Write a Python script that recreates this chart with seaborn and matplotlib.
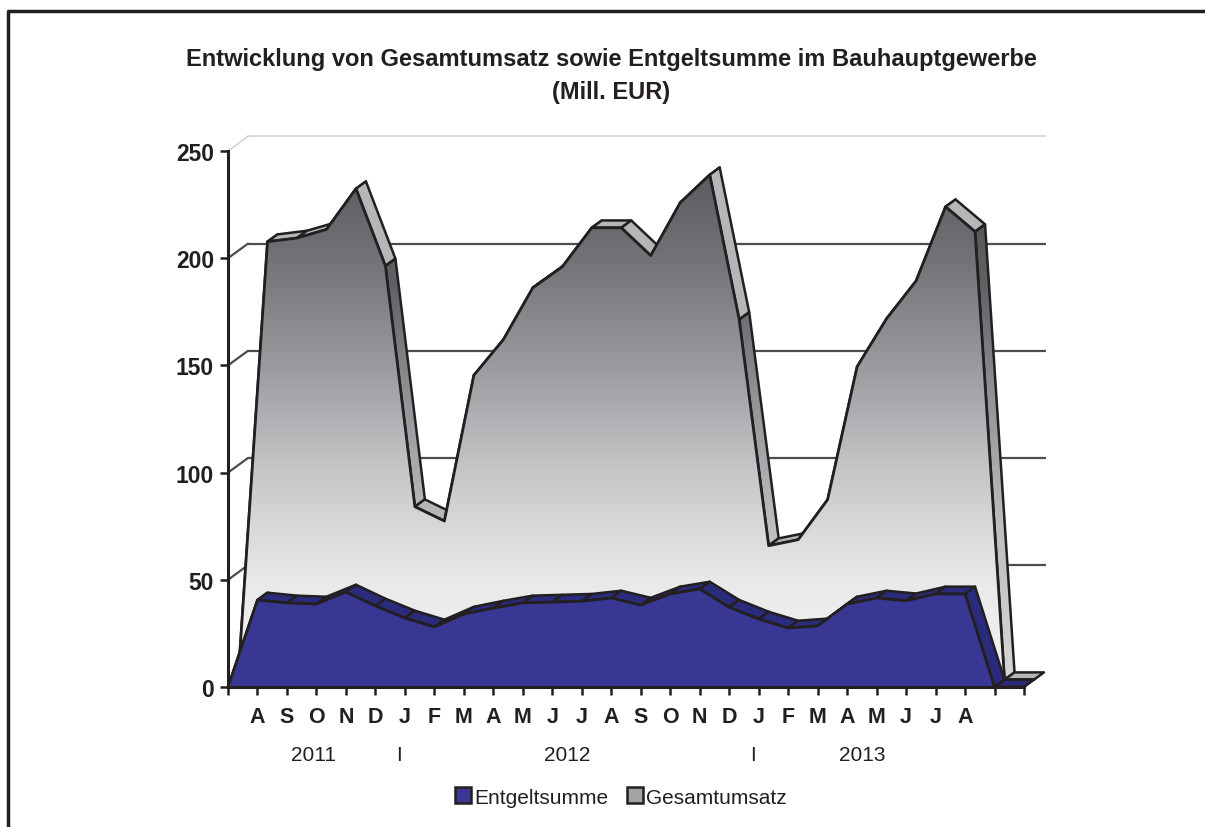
import numpy as np
import pandas as pd
import matplotlib
matplotlib.use("Agg")
import matplotlib.pyplot as plt
import matplotlib.transforms as mtransforms
from matplotlib.patches import Polygon, Patch
from matplotlib.lines import Line2D
from matplotlib.colors import LinearSegmentedColormap
import seaborn as sns

# data (Mill. EUR), Aug 2011 .. Aug 2013
months = ["A", "S", "O", "N", "D", "J", "F", "M", "A", "M", "J", "J", "A",
          "S", "O", "N", "D", "J", "F", "M", "A", "M", "J", "J", "A"]
years = ["2011", "2012", "2013"]
months_per_year = [5, 12, 8]
entgeltsumme = [40.6, 39.2, 38.7, 44.3, 37.8, 32.2, 28.0, 34.0, 36.8, 39.2, 39.6, 40.0, 41.5,
                38.2, 43.4, 45.7, 37.2, 31.7, 27.5, 28.5, 38.7, 41.5, 40.2, 43.4, 43.4]
gesamtumsatz = [204.3, 206.0, 210.0, 229.0, 193.0, 80.7, 74.0, 142.0, 158.6, 182.8, 192.6, 210.8, 210.8,
                197.8, 222.5, 235.5, 168.0, 62.5, 65.3, 84.0, 146.0, 168.4, 186.0, 220.6, 209.0]
yticks = [0, 50, 100, 150, 200, 250]

sns.set_style("white")
plt.rcParams["font.family"] = ["Liberation Sans", "DejaVu Sans"]

# category axis: empty slot, 25 months, two empty slots (as in the source sheet)
n = len(months) + 3
pos = np.arange(n)
ent = np.array([0] + entgeltsumme + [0, 0], dtype=float)
ges = np.array([0] + gesamtumsatz + [0, 0], dtype=float)

W, H = 1205, 828
fig = plt.figure(figsize=(W / 100, H / 100), dpi=100)
px_x = (1024 - 228) / (n - 1)
px_y = (688 - 152) / 250
xmax, ymax = n - 1 + 0.75, 258
ax = fig.add_axes([228 / W, (H - 688) / H, xmax * px_x / W, ymax * px_y / H])

# depth of one series ribbon in data units
dx, dy = 10 / px_x, 7.3 / px_y

front_cmap = LinearSegmentedColormap.from_list(
    "front", [(0, "#f4f5f5"), (0.2, "#e8e9e9"), (0.4, "#c6c7c9"), (0.6, "#9a9b9e"),
              (0.8, "#727376"), (1.0, "#55565a")])
side_cmap = LinearSegmentedColormap.from_list(
    "side", [(0, "#d6d7d8"), (0.3, "#bdbec0"), (0.55, "#909194"), (0.75, "#606164"), (1.0, "#4e4f53")])
grad = np.linspace(0, 1, 256).reshape(-1, 1)


def gradient_in(patch, cmap, z):
    im = ax.imshow(grad, extent=[0, xmax, 0, 250], origin="lower", cmap=cmap,
                   aspect="auto", zorder=z, interpolation="bilinear")
    im.set_clip_path(patch)


def ribbon(vals, k, face, side, z, shaded=False):
    ox, oy = k * dx, k * dy
    fx, fy = pos + ox, vals + oy
    bx, by = fx + dx, fy + dy
    for i in range(n - 1):
        quad = [(fx[i], fy[i]), (fx[i + 1], fy[i + 1]), (bx[i + 1], by[i + 1]), (bx[i], by[i])]
        slope = (fy[i + 1] - fy[i]) * px_y / px_x
        if shaded and slope < -6:
            p = Polygon(quad, closed=True, facecolor="none", edgecolor="none", zorder=z)
            ax.add_patch(p)
            gradient_in(p, side_cmap, z)
            ax.add_patch(Polygon(quad, closed=True, facecolor="none", edgecolor="#231f20",
                                 lw=1.8, joinstyle="round", zorder=z + 0.1))
        else:
            ax.add_patch(Polygon(quad, closed=True, facecolor=side, edgecolor="#231f20",
                                 lw=1.8, joinstyle="round", zorder=z + 0.1))
    verts = [(fx[0], oy)] + list(zip(fx, fy)) + [(fx[-1], oy)]
    if shaded:
        p = Polygon(verts, closed=True, facecolor="none", edgecolor="none", zorder=z + 1)
        ax.add_patch(p)
        gradient_in(p, front_cmap, z + 1)
    else:
        ax.add_patch(Polygon(verts, closed=True, facecolor=face, edgecolor="none", zorder=z + 1))
    return pd.DataFrame({"x": fx, "y": fy})


# back wall gridlines
for v in yticks[1:]:
    col, lw = ("#d4d4d4", 1.2) if v == 250 else ("#4d4d4f", 1.6)
    ax.plot([2 * dx, xmax], [v + 2 * dy, v + 2 * dy], color=col, lw=lw, zorder=1)
    ax.plot([0, 2 * dx], [v, v + 2 * dy], color=col, lw=lw, zorder=1)

front_g = ribbon(ges, 1, None, "#b5b6b8", 2, shaded=True)
front_e = ribbon(ent, 0, "#383894", "#2b2b7c", 5)
sns.lineplot(data=front_g, x="x", y="y", sort=False, color="#231f20", lw=2, ax=ax, zorder=3.5)
sns.lineplot(data=front_e, x="x", y="y", sort=False, color="#231f20", lw=2, ax=ax, zorder=6.5)

ax.set_xlim(0, xmax)
ax.set_ylim(0, ymax)
ax.set_xlabel("")
ax.set_ylabel("")
for s in ["top", "right"]:
    ax.spines[s].set_visible(False)
ax.spines["left"].set_bounds(0, 250)
ax.spines["bottom"].set_bounds(0, n - 1)
for s in ["left", "bottom"]:
    ax.spines[s].set_linewidth(2.2)
    ax.spines[s].set_color("#231f20")
    ax.spines[s].set_zorder(8)
ax.set_yticks(yticks)
ax.set_yticklabels([str(v) for v in yticks], fontsize=16.5, fontweight="bold")
ax.set_xticks(pos)
ax.set_xticklabels([""] + months + ["", ""], fontsize=15.5, fontweight="bold")
ax.tick_params(axis="both", direction="out", length=6, width=1.8, color="#231f20",
               left=True, bottom=True, labelcolor="#231f20")
ax.tick_params(axis="x", pad=8)
ax.tick_params(axis="y", pad=4)

# year labels below the months
tr = mtransforms.blended_transform_factory(ax.transData, fig.transFigure)
start = 1
for yr, m in zip(years, months_per_year):
    idx = np.arange(start, start + m)
    xc = idx.mean() if yr != "2011" else idx.mean() - 0.1
    ax.text(xc, 1 - 756 / H, yr, transform=tr, ha="center", va="center", fontsize=15, color="#231f20")
    if start + m <= len(months):
        ax.text(start + m - 0.2, 1 - 756 / H, "I", transform=tr, ha="center", va="center",
                fontsize=15, color="#231f20")
    start += m

fig.text(611 / W, 1 - 76 / H, "Entwicklung von Gesamtumsatz sowie Entgeltsumme im Bauhauptgewerbe\n(Mill. EUR)",
         ha="center", va="center", fontsize=17, fontweight="bold", linespacing=1.6, color="#231f20")

handles = [Patch(facecolor="#383894", edgecolor="#231f20", lw=1.8, label="Entgeltsumme"),
           Patch(facecolor="#a2a3a5", edgecolor="#231f20", lw=1.8, label="Gesamtumsatz")]
fig.legend(handles=handles, loc="center", bbox_to_anchor=(621 / W, 1 - 798 / H), ncol=2,
           frameon=False, fontsize=15, handlelength=0.75, handleheight=0.8,
           handletextpad=0.15, columnspacing=0.9, labelcolor="#231f20")

# outer frame (left and top edges)
fig.add_artist(Line2D([8 / W, 8 / W, 1], [0, 1 - 12 / H, 1 - 12 / H], transform=fig.transFigure,
                      color="#231f20", lw=2.5))

fig.savefig("out.png", dpi=100)
